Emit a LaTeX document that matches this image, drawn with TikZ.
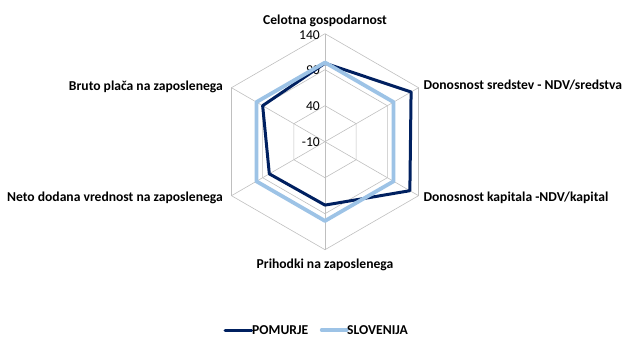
\documentclass[tikz,border=0pt]{standalone}
\usepackage{fontspec}
\setmainfont{Carlito}
\usetikzlibrary{calc}
\begin{document}
\begin{tikzpicture}[x=1pt,y=1pt,
  grid/.style={draw=black!25, line width=0.6pt},
  lab/.style={font=\bfseries\fontsize{13.6}{16}\selectfont, inner sep=0pt},
  tick/.style={font=\fontsize{13.6}{16}\selectfont, inner sep=0pt, anchor=east},
  pom/.style={draw={rgb,255:red,0;green,32;blue,96}, line width=3pt, line join=round},
  slo/.style={draw={rgb,255:red,157;green,195;blue,230}, line width=3.8pt, line join=round}]
\useasboundingbox (0,0) rectangle (623,338);
\coordinate (c) at (325,196.3);
% grid hexagons: values -10 (centre), 40, 90, 140
\foreach \r in {36,72,108}{
  \draw[grid] ($(c)+(90:\r)$) -- ($(c)+(30:\r)$) -- ($(c)+(-30:\r)$) -- ($(c)+(-90:\r)$) -- ($(c)+(-150:\r)$) -- ($(c)+(150:\r)$) -- cycle;
}
\foreach \a in {90,30,-30,-90,-150,150}{
  \draw[grid] (c) -- ($(c)+(\a:108)$);
}
% tick labels
\node[tick] (t140) at (320,303) {140};
\node[tick] (t90) at (320,268) {90};
\node[tick] (t40) at (320,232) {40};
\node[tick] (t-10) at (320,196) {-10};
% series: r = 108*(v+10)/150
\draw[pom] ($(c)+(90:78.5)$) -- ($(c)+(30:99.4)$) -- ($(c)+(-30:98)$) -- ($(c)+(-90:63.4)$) -- ($(c)+(-150:64.3)$) -- ($(c)+(150:72)$) -- cycle;
\draw[slo] ($(c)+(90:79.2)$) -- ($(c)+(30:79.2)$) -- ($(c)+(-30:79.2)$) -- ($(c)+(-90:79.2)$) -- ($(c)+(-150:79.2)$) -- ($(c)+(150:79.2)$) -- cycle;
% axis labels
\node[lab] (l1) at (325,317) {Celotna gospodarnost};
\node[lab, anchor=west] (l2) at (423.3,253) {Donosnost sredstev - NDV/sredstva};
\node[lab, anchor=west] (l3) at (423.3,140) {Donosnost kapitala -NDV/kapital};
\node[lab] (l4) at (325,73) {Prihodki na zaposlenega};
\node[lab, anchor=east] (l5) at (223,251.3) {Bruto plača na zaposlenega};
\node[lab, anchor=east] (l6) at (223,140) {Neto dodana vrednost na zaposlenega};
% legend
\coordinate (p1) at (225,8);
\coordinate (p2) at (251.7,8);
\draw[pom, line cap=round] (p1) -- (p2);
\node[lab, anchor=base west] (lp) at (252,4) {POMURJE};
\coordinate (s1) at (321.7,8);
\coordinate (s2) at (346.7,8);
\draw[slo, line cap=round] (s1) -- (s2);
\node[lab, anchor=base west] (ls) at (347,4) {SLOVENIJA};
\end{tikzpicture}
\end{document}
